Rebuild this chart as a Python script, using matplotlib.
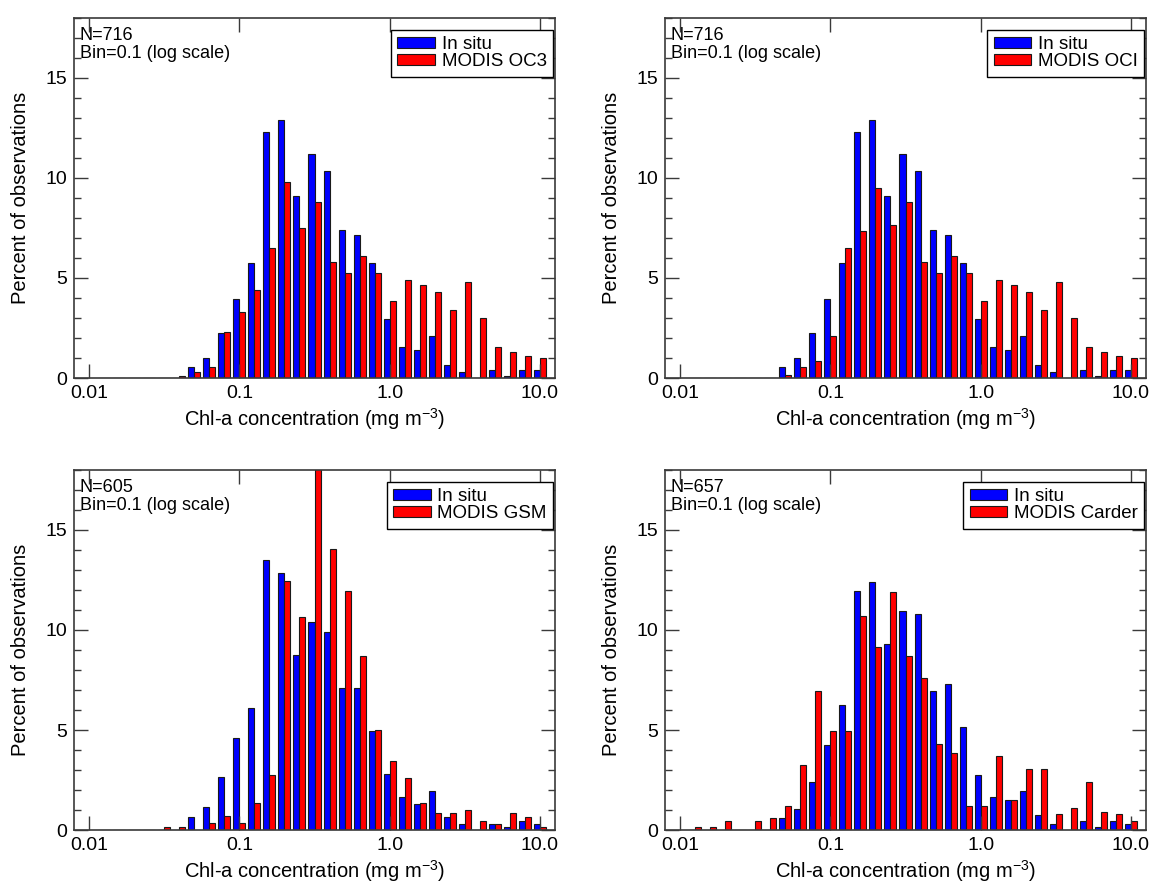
import matplotlib
matplotlib.use("Agg")
import matplotlib.pyplot as plt
import matplotlib.ticker as mticker
import numpy as np

plt.rcParams['font.family'] = ['Liberation Sans', 'DejaVu Sans']
plt.rcParams['mathtext.fontset'] = 'custom'
plt.rcParams['mathtext.rm'] = 'Liberation Sans'
plt.rcParams['mathtext.default'] = 'regular'

# bin centres in log10(chl): -1.9 ... 1.0, bin = 0.1
log_centres = -1.9 + 0.1 * np.arange(30)

# percent of observations per bin
insitu_716 = [0, 0, 0, 0, 0, 0, 0.55, 1.0, 2.26, 3.94, 5.73, 12.3, 12.9, 9.1, 11.19,
              10.35, 7.39, 7.14, 5.73, 2.95, 1.54, 1.4, 2.09, 0.67, 0.28, 0, 0.42, 0.12, 0.42, 0.42]
oc3 = [0, 0, 0, 0, 0, 0.12, 0.28, 0.55, 2.3, 3.3, 4.39, 6.5, 9.78, 7.52, 8.78,
       5.8, 5.24, 6.1, 5.24, 3.85, 4.92, 4.66, 4.29, 3.42, 4.81, 2.98, 1.54, 1.29, 1.12, 0.99]
oci = [0, 0, 0, 0, 0, 0, 0.13, 0.55, 0.84, 2.11, 6.5, 7.35, 9.51, 7.67, 8.78,
       5.8, 5.24, 6.1, 5.24, 3.85, 4.92, 4.66, 4.29, 3.42, 4.81, 2.98, 1.54, 1.29, 1.12, 0.99]
insitu_605 = [0, 0, 0, 0, 0, 0, 0.64, 1.14, 2.63, 4.62, 6.09, 13.48, 12.83, 8.75, 10.4,
              9.9, 7.1, 7.1, 4.93, 2.79, 1.64, 1.29, 1.94, 0.64, 0.3, 0, 0.3, 0.13, 0.45, 0.28]
gsm = [0, 0, 0, 0, 0.17, 0.17, 0, 0.35, 0.68, 0.35, 1.36, 2.76, 12.47, 10.64, 18.1,
       14.06, 11.96, 8.71, 5.02, 3.44, 2.59, 1.35, 0.84, 0.84, 1.02, 0.47, 0.3, 0.84, 0.67, 0.13]
insitu_657 = [0, 0, 0, 0, 0, 0, 0.58, 1.05, 2.41, 4.25, 6.24, 11.96, 12.42, 9.28, 10.95,
              10.82, 6.97, 7.31, 5.17, 2.73, 1.67, 1.49, 1.96, 0.76, 0.3, 0, 0.44, 0.15, 0.44, 0.3]
carder = [0.15, 0.15, 0.46, 0, 0.46, 0.61, 1.22, 3.23, 6.94, 4.93, 4.93, 10.7, 9.15, 11.9, 8.68,
          7.58, 4.31, 3.85, 1.22, 1.22, 3.7, 1.5, 3.06, 3.06, 0.78, 1.08, 2.42, 0.92, 0.78, 0.45]

panels = [
    (insitu_716, oc3, 'MODIS OC3', 716),
    (insitu_716, oci, 'MODIS OCI', 716),
    (insitu_605, gsm, 'MODIS GSM', 605),
    (insitu_657, carder, 'MODIS Carder', 657),
]

W, H = 1157, 888
fig = plt.figure(figsize=(W / 100, H / 100), dpi=100)
frame_col = '#3a3a3a'
lefts = [74, 665]
bottoms = [378, 830]
bw = 0.04  # bar width in decades

for i, (blue, red, name, n) in enumerate(panels):
    l = lefts[i % 2]
    b = bottoms[i // 2]
    ax = fig.add_axes([l / W, (H - b) / H, 481 / W, 360 / H])
    ax.set_xscale('log')
    ax.bar(10 ** (log_centres - bw), blue, width=10 ** log_centres - 10 ** (log_centres - bw),
           align='edge', color='#0000ff', edgecolor='#1a1a1a', linewidth=0.8, label='In situ')
    ax.bar(10 ** log_centres, red, width=10 ** (log_centres + bw) - 10 ** log_centres,
           align='edge', color='#ff0000', edgecolor='#1a1a1a', linewidth=0.8, label=name)
    ax.set_xlim(10 ** -2.1, 10 ** 1.1)
    ax.set_ylim(0, 18)
    ax.xaxis.set_major_locator(mticker.FixedLocator([0.01, 0.1, 1.0, 10.0]))
    ax.xaxis.set_major_formatter(mticker.FixedFormatter(['0.01', '0.1', '1.0', '10.0']))
    ax.xaxis.set_minor_locator(mticker.NullLocator())
    ax.yaxis.set_major_locator(mticker.MultipleLocator(5))
    ax.yaxis.set_minor_locator(mticker.MultipleLocator(1))
    ax.tick_params(which='both', direction='in', top=True, right=True, color=frame_col,
                   labelsize=14, pad=5)
    ax.tick_params(which='major', length=10, width=1)
    ax.tick_params(which='minor', length=5, width=1)
    for s in ax.spines.values():
        s.set_color(frame_col)
        s.set_linewidth(1.2)
    ax.set_xlabel('Chl-a concentration (mg m$^{-3}$)', fontsize=14.5, labelpad=3)
    ax.set_ylabel('Percent of observations', fontsize=14.5, labelpad=11)
    ax.text(0.012, 0.975, 'N=%d\nBin=0.1 (log scale)' % n, transform=ax.transAxes,
            ha='left', va='top', fontsize=13, linespacing=1.1)
    leg = ax.legend(loc='upper right', bbox_to_anchor=(0.996, 0.968), borderaxespad=0,
                    fontsize=13.5, fancybox=False, edgecolor='black', framealpha=1,
                    handlelength=2.0, handleheight=0.6, handletextpad=0.35,
                    labelspacing=0.0, borderpad=0.35)
    leg.get_frame().set_linewidth(1.0)

fig.savefig('out.png', dpi=100)
